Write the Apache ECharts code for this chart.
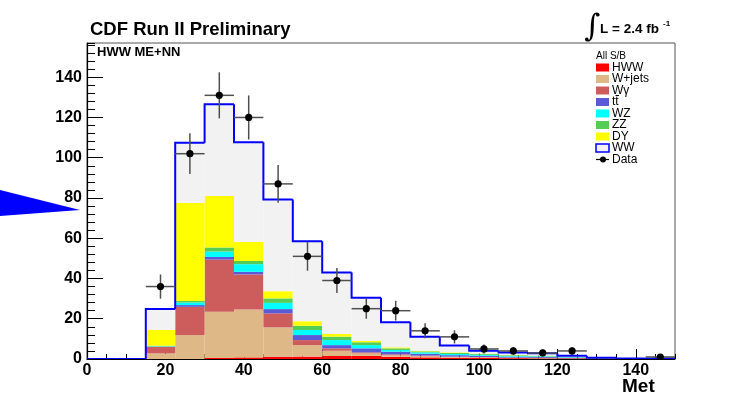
<!DOCTYPE html>
<html>
<head>
<meta charset="utf-8">
<script src="https://cdn.jsdelivr.net/npm/echarts@6/dist/echarts.min.js"></script>
<style>
  html, body { margin: 0; padding: 0; background: #ffffff; }
  #chart { width: 741px; height: 395px; }
</style>
</head>
<body>
<div id="chart"></div>
<script>
// Missing transverse energy (Met) bins, 7.5 wide, 0 to 150
const binEdges = [0, 7.5, 15, 22.5, 30, 37.5, 45, 52.5, 60, 67.5, 75, 82.5, 90, 97.5, 105, 112.5, 120, 127.5, 135, 142.5, 150];

// Expected events per bin, stacked from the bottom up
const hww    = [0, 0, 0,    0,    0.5,  0.8,  1.0,  1.2,  1.5,  1.5,  1.1,  0.8, 0.6, 0.5, 0.4, 0.3, 0.2, 0.1, 0,   0];
const wjets  = [0, 0, 2.8,  11.9, 23.0, 23.8, 14.7, 5.7,  2.6,  1.3,  0.8,  0.6, 0.4, 0.3, 0.2, 0.2, 0.1, 0.2, 0,   0];
const wgamma = [0, 0, 3.2,  14.0, 25.9, 17.4, 7.0,  2.5,  1.2,  0.5,  0.4,  0.3, 0.2, 0.2, 0.1, 0.1, 0.1, 0,   0,   0];
const ttbar  = [0, 0, 0.1,  0.9,  1.3,  1.3,  2.1,  2.5,  1.6,  2.0,  1.3,  0.9, 0.7, 0.6, 0.5, 0.4, 0.3, 0.1, 0,   0];
const wz     = [0, 0, 0.2,  1.3,  2.7,  3.8,  3.1,  2.5,  2.5,  1.6,  0.9,  0.7, 0.6, 0.5, 0.4, 0.3, 0.2, 0,   0,   0];
const zz     = [0, 0, 0.3,  0.7,  2.0,  1.6,  2.2,  2.1,  1.7,  1.4,  0.8,  0.5, 0.5, 0.4, 0.3, 0.3, 0.2, 0,   0,   0.2];
const dy     = [0, 0, 7.9,  48.7, 25.6, 9.5,  3.6,  2.3,  1.3,  0.8,  0.5,  0.3, 0.3, 0.2, 0.1, 0.1, 0.1, 0.1, 0.3, 0];
const ww     = [0, 0, 10.3, 29.9, 45.6, 49.5, 45.5, 39.7, 30.6, 21.3, 12.4, 7.0, 3.4, 1.4, 1.2, 1.1, 0.4, 0.1, 0,   0];

// Observed events per bin (null = empty bin, not drawn)
const observed = [null, null, 36, 102, 131, 120, 87, 51, 39, 25, 24, 14, 11, 5, 4, 3, 4, null, null, 1];

// Axis tick values
const xMajorTicks = [0, 20, 40, 60, 80, 100, 120, 140];
const yMajorTicks = [0, 20, 40, 60, 80, 100, 120, 140];

const processes = [
  { name: 'HWW',    values: hww,    color: '#ff0000' },
  { name: 'W+jets', values: wjets,  color: '#deb887' },
  { name: 'W\u03b3', values: wgamma, color: '#cd5c5c' },
  { name: 'tt',     values: ttbar,  color: '#5a5ad8', bar: true },
  { name: 'WZ',     values: wz,     color: '#00ffff' },
  { name: 'ZZ',     values: zz,     color: '#55cc55' },
  { name: 'DY',     values: dy,     color: '#ffff00' },
  { name: 'WW',     values: ww,     color: '#f2f2f2' }
];

const FONT = '"Liberation Sans", Arial, Helvetica, sans-serif';

// Build stacked boxes [lo, hi, base, top] for each process
const cumulative = new Array(binEdges.length - 1).fill(0);
const stackSeries = processes.map(function (p) {
  const items = [];
  p.values.forEach(function (v, i) {
    const base = cumulative[i];
    const top = base + v;
    if (v > 0) items.push([binEdges[i], binEdges[i + 1], base, top]);
    cumulative[i] = top;
  });
  return {
    type: 'custom',
    name: p.name,
    clip: true,
    data: items,
    encode: { x: [0, 1], y: [2, 3] },
    renderItem: function (params, api) {
      const a = api.coord([api.value(0), api.value(3)]);
      const b = api.coord([api.value(1), api.value(2)]);
      return {
        type: 'rect',
        shape: { x: a[0], y: a[1], width: b[0] - a[0], height: b[1] - a[1] },
        style: { fill: p.color, stroke: null }
      };
    }
  };
});

// Outline of the total expectation (drawn as a histogram step)
const total = cumulative.slice();
const outlineData = total.map(function (t, i) {
  return [binEdges[i], binEdges[i + 1], i > 0 ? total[i - 1] : 0, t];
});
const outlineSeries = {
  type: 'custom',
  name: 'WW outline',
  clip: true,
  data: outlineData,
  encode: { x: [0, 1], y: [2, 3] },
  renderItem: function (params, api) {
    const lo = api.value(0), hi = api.value(1), prev = api.value(2), t = api.value(3);
    const p1 = api.coord([lo, prev]);
    const p2 = api.coord([lo, t]);
    const p3 = api.coord([hi, t]);
    return {
      type: 'polyline',
      shape: { points: [p1, p2, p3] },
      style: { stroke: '#0000ff', lineWidth: 2, fill: 'none' }
    };
  }
};

// Observed points with Poisson error bars and bin-width horizontal bars
const pointData = [];
observed.forEach(function (n, i) {
  if (n === null) return;
  pointData.push([(binEdges[i] + binEdges[i + 1]) / 2, n, binEdges[i], binEdges[i + 1]]);
});
const dataSeries = {
  type: 'custom',
  name: 'Data',
  clip: true,
  data: pointData,
  encode: { x: 0, y: 1 },
  renderItem: function (params, api) {
    const x = api.value(0), n = api.value(1), lo = api.value(2), hi = api.value(3);
    const err = Math.sqrt(n);
    const c = api.coord([x, n]);
    const l = api.coord([lo, n]);
    const r = api.coord([hi, n]);
    const t = api.coord([x, n + err]);
    const b = api.coord([x, Math.max(n - err, 0)]);
    return {
      type: 'group',
      children: [
        { type: 'line', shape: { x1: l[0], y1: l[1], x2: r[0], y2: r[1] }, style: { stroke: '#505050', lineWidth: 1.5 } },
        { type: 'line', shape: { x1: t[0], y1: t[1], x2: b[0], y2: b[1] }, style: { stroke: '#505050', lineWidth: 1.5 } },
        { type: 'circle', shape: { cx: c[0], cy: c[1], r: 3.6 }, style: { fill: '#000000' } }
      ]
    };
  }
};

// Legend drawn as graphics
const legendX = 596;
const legendTop = 56;
const legendStep = 11.5;
const legendGraphics = [
  { type: 'text', x: legendX, y: legendTop, style: { text: 'All S/B', font: '10px ' + FONT, fill: '#000', textVerticalAlign: 'middle' } }
];
processes.forEach(function (p, k) {
  const cy = legendTop + legendStep * (k + 1);
  const isWW = p.name === 'WW';
  legendGraphics.push({
    type: 'rect',
    shape: { x: legendX, y: cy - 4, width: 13, height: 8 },
    style: isWW ? { fill: '#f2f2f2', stroke: '#0000ff', lineWidth: 1.5 } : { fill: p.color }
  });
  legendGraphics.push({
    type: 'text', x: legendX + 16, y: cy,
    style: { text: p.name, font: '12px ' + FONT, fill: '#000', textVerticalAlign: 'middle' }
  });
  if (p.bar) {
    // bar over the second t of t-tbar
    legendGraphics.push({
      type: 'line',
      shape: { x1: legendX + 19.6, y1: cy - 6.5, x2: legendX + 23, y2: cy - 6.5 },
      style: { stroke: '#000', lineWidth: 1 }
    });
  }
});
(function () {
  const cy = legendTop + legendStep * 9;
  legendGraphics.push({ type: 'line', shape: { x1: legendX, y1: cy, x2: legendX + 13, y2: cy }, style: { stroke: '#000', lineWidth: 1.2 } });
  legendGraphics.push({ type: 'circle', shape: { cx: legendX + 7, cy: cy, r: 3 }, style: { fill: '#000' } });
  legendGraphics.push({ type: 'text', x: legendX + 16, y: cy, style: { text: 'Data', font: '12px ' + FONT, fill: '#000', textVerticalAlign: 'middle' } });
})();

const chart = echarts.init(document.getElementById('chart'), null, { renderer: 'canvas' });

chart.setOption({
  animation: false,
  backgroundColor: '#ffffff',
  grid: {
    left: 87, right: 66, top: 43, bottom: 36,
    show: true, borderColor: '#555555', borderWidth: 1, backgroundColor: 'transparent'
  },
  xAxis: [
    {
      type: 'value', min: 0, max: 150, interval: 20, position: 'bottom',
      axisLine: { show: true, onZero: false, lineStyle: { color: '#000', width: 1.2 } },
      axisTick: { show: true, inside: true, length: 10, lineStyle: { color: '#000', width: 1 } },
      axisLabel: {
        show: true, margin: 4, showMaxLabel: false,
        color: '#000', fontFamily: FONT, fontWeight: 'bold', fontSize: 16,
        formatter: function (v) { return xMajorTicks.indexOf(v) >= 0 ? String(v) : ''; }
      },
      splitLine: { show: false }
    },
    {
      type: 'value', min: 0, max: 150, interval: 5, position: 'bottom',
      axisLine: { show: false },
      axisTick: { show: true, inside: true, length: 5, lineStyle: { color: '#000', width: 1 } },
      axisLabel: { show: false },
      splitLine: { show: false }
    }
  ],
  yAxis: [
    {
      type: 'value', min: 0, max: 157, interval: 20, position: 'left',
      axisLine: { show: true, onZero: false, lineStyle: { color: '#000', width: 1.2 } },
      axisTick: { show: true, inside: true, length: 16, lineStyle: { color: '#000', width: 1 } },
      axisLabel: {
        show: true, margin: 5, showMaxLabel: false,
        color: '#000', fontFamily: FONT, fontWeight: 'bold', fontSize: 16,
        formatter: function (v) { return yMajorTicks.indexOf(v) >= 0 ? String(v) : ''; }
      },
      splitLine: { show: false }
    },
    {
      type: 'value', min: 0, max: 157, interval: 4, position: 'left',
      axisLine: { show: false },
      axisTick: { show: true, inside: true, length: 8, lineStyle: { color: '#000', width: 1 } },
      axisLabel: { show: false },
      splitLine: { show: false }
    }
  ],
  series: stackSeries.concat([outlineSeries, dataSeries]),
  graphic: [
    // slide arrow at the left
    { type: 'polygon', shape: { points: [[0, 190], [80, 210], [0, 216]] }, style: { fill: '#0000ff' } },
    { type: 'text', left: 90, top: 20, style: { text: 'CDF Run II Preliminary', font: 'bold 18.5px ' + FONT, fill: '#000' } },
    { type: 'text', left: 97, top: 46, style: { text: 'HWW ME+NN', font: 'bold 13px ' + FONT, fill: '#000' } },
    { type: 'text', left: 584, top: 12, style: { text: '\u222b', font: '31px "DejaVu Serif", serif', fill: '#000' } },
    { type: 'text', left: 600, top: 22, style: { text: 'L = 2.4 fb', font: 'bold 13.5px ' + FONT, fill: '#000' } },
    { type: 'text', left: 663, top: 20, style: { text: '-1', font: 'bold 8px ' + FONT, fill: '#000' } },
    { type: 'text', left: 622, top: 377, style: { text: 'Met', font: 'bold 19px ' + FONT, fill: '#000' } }
  ].concat(legendGraphics)
});
</script>
</body>
</html>
